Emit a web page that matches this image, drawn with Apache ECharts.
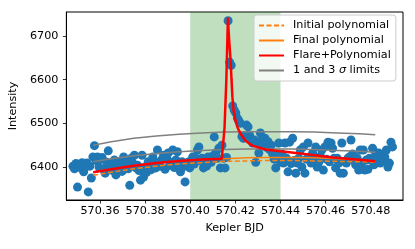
<!DOCTYPE html>
<html><head><meta charset="utf-8">
<script src="https://cdn.jsdelivr.net/npm/echarts@6/dist/echarts.min.js"></script>
<style>html,body{margin:0;padding:0;background:#fff}#c{width:415px;height:249px}</style>
</head><body><div id="c"></div>
<script>
// ---- data ----
const obsStart = 570.3480;      // first cadence time
const cadence = 0.000681;       // Kepler short cadence (days)
const intensity = [
6402,6396,6408,6354,6405,6398,6410,6389,6400,6409,
6343,6402,6375,6423,6449,6415,6423,6400,6418,6422,
6395,6386,6411,6437,6402,6409,6392,6416,6382,6405,
6398,6412,6390,6423,6402,6409,6396,6358,6420,6409,
6427,6398,6404,6392,6370,6427,6377,6400,6388,6412,
6405,6394,6423,6410,6398,6439,6411,6402,6418,6427,
6395,6420,6432,6404,6411,6439,6399,6416,6435,6409,
6389,6412,6401,6366,6405,6411,6398,6415,6423,6407,
6420,6439,6446,6414,6420,6398,6409,6402,6423,6415,
6411,6425,6469,6432,6420,6443,6398,6450,6420,6398,
6422,6735,6640,6633,6540,6530,6524,6512,6506,6500,
6470,6466,6470,6496,6492,6473,6462,6455,6462,6411,
6455,6432,6478,6462,6450,6466,6445,6458,6440,6450,
6430,6418,6398,6425,6455,6412,6430,6409,6455,6420,
6389,6457,6408,6466,6415,6386,6409,6420,6439,6400,
6446,6386,6418,6455,6423,6409,6432,6415,6446,6400,
6411,6425,6439,6393,6446,6418,6457,6412,6455,6443,
6420,6398,6420,6409,6386,6455,6386,6412,6409,6420,
6423,6462,6430,6415,6405,6420,6393,6439,6409,6439,
6393,6416,6395,6420,6416,6443,6405,6432,6418,6432,
6409,6420,6416,6423,6439,6400,6409,6457,6446
];
const polyTime  = [570.357,570.365,570.375,570.385,570.395,570.405,570.415,570.425,570.435,570.445,570.455,570.465,570.475,570.482];
const initPoly  = [6381,6388,6396,6402,6407,6410,6413,6414,6415,6415,6414,6413,6412,6411];
const finalPoly = [6388,6395,6403,6409,6414,6417,6419,6421,6422,6422,6421,6419,6416,6413];
const sigma1    = [6412,6419,6426,6431,6435,6438,6440,6441,6441,6441,6440,6438,6436,6434];
const sigma3    = [6450,6458,6466,6471,6475,6478,6480,6481,6481,6481,6480,6478,6476,6474];
const flareTime = [570.357,570.365,570.375,570.385,570.395,570.405,570.414,570.4145,570.4152,570.4160,570.4167,570.4170,570.4174,570.4179,570.4183,570.4187,570.4192,570.4201,570.4210,570.4223,570.4245,570.4275,570.4334,570.4400,570.4488,570.4634,570.4811,570.482];
const flareFit  = [6388,6395,6403,6409,6414,6417,6419,6420,6490,6600,6742,6712,6680,6643,6600,6560,6530,6505,6490,6476,6460,6449,6440,6436,6431,6422,6414,6413];
const spanRange = [570.40, 570.44];
const xTicks = [570.36,570.38,570.40,570.42,570.44,570.46,570.48];
const yTicks = [6400,6500,6600,6700];

const pts = intensity.map((v,i)=>[obsStart + i*cadence, v]);
const pair = (xs, ys) => xs.map((x,i)=>[x, ys[i]]);

const font = 'DejaVu Sans';
const fs = 11.2;
const chart = echarts.init(document.getElementById('c'), null, {renderer:'canvas'});
chart.setOption({
  animation:false,
  backgroundColor:'#fff',
  grid:{left:65,right:12,top:12,bottom:49,show:true,borderColor:'#000',borderWidth:1,backgroundColor:'transparent'},
  xAxis:{type:'value',min:570.3451,max:570.4943,
    name:'Kepler BJD',nameLocation:'middle',nameGap:23,
    nameTextStyle:{fontFamily:font,fontSize:fs,color:'#000'},
    axisLine:{show:true,onZero:false,lineStyle:{color:'#000',width:1}},
    axisTick:{show:true,length:3.5,customValues:xTicks,lineStyle:{color:'#000',width:0.8}},
    axisLabel:{customValues:xTicks,margin:6,fontFamily:font,fontSize:fs,color:'#000',formatter:v=>v.toFixed(2)},
    splitLine:{show:false}},
  yAxis:{type:'value',min:6324.5,max:6755,
    name:'Intensity',nameLocation:'middle',nameGap:41,nameRotate:90,
    nameTextStyle:{fontFamily:font,fontSize:fs,color:'#000'},
    axisLine:{show:true,onZero:false,lineStyle:{color:'#000',width:1}},
    axisTick:{show:true,length:3.5,customValues:yTicks,lineStyle:{color:'#000',width:0.8}},
    axisLabel:{customValues:yTicks,margin:8,fontFamily:font,fontSize:fs,color:'#000',formatter:v=>String(Math.round(v))},
    splitLine:{show:false}},
  legend:{
    orient:'vertical',left:254,top:15,
    data:['Initial polynomial','Final polynomial','Flare+Polynomial','1 and 3 σ limits'],
    itemWidth:25,itemHeight:13,itemGap:4,
    padding:[5,5,5,4],
    itemStyle:{color:'rgba(0,0,0,0)',borderColor:'rgba(0,0,0,0)',borderWidth:0},
    backgroundColor:'rgba(255,255,255,0.8)',borderColor:'#cccccc',borderWidth:1,borderRadius:3,
    textStyle:{fontFamily:font,fontSize:fs,color:'#000',padding:[0,0,0,4],
      rich:{s:{fontFamily:font,fontSize:fs,fontStyle:'italic',color:'#000'}}},
    formatter:n=> n==='1 and 3 σ limits' ? '1 and 3 {s|σ} limits' : n
  },
  series:[
    {type:'line',name:'span',data:[],z:0,silent:true,
      markArea:{silent:true,itemStyle:{color:'rgba(0,128,0,0.25)'},data:[[{xAxis:spanRange[0]},{xAxis:spanRange[1]}]]}},
    {type:'scatter',name:'data',data:pts,symbolSize:9,z:2,itemStyle:{color:'#1f77b4',opacity:1}},
    {type:'line',name:'1 and 3 σ limits',data:pair(polyTime,sigma1),showSymbol:false,symbol:'none',z:3,
      lineStyle:{color:'#808080',width:1.5},itemStyle:{color:'#808080'}},
    {type:'line',name:'1 and 3 σ limits',data:pair(polyTime,sigma3),showSymbol:false,symbol:'none',z:3,
      lineStyle:{color:'#808080',width:1.5},itemStyle:{color:'#808080'}},
    {type:'line',name:'Initial polynomial',data:pair(polyTime,initPoly),showSymbol:false,symbol:'none',z:4,
      lineStyle:{color:'#ff7f0e',width:1.5,type:[5,2.5]},itemStyle:{color:'#ff7f0e'}},
    {type:'line',name:'Final polynomial',data:pair(polyTime,finalPoly),showSymbol:false,symbol:'none',z:4,
      lineStyle:{color:'#ff7f0e',width:1.5},itemStyle:{color:'#ff7f0e'}},
    {type:'line',name:'Flare+Polynomial',data:pair(flareTime,flareFit),showSymbol:false,symbol:'none',z:5,
      lineStyle:{color:'#ff0000',width:2.5},itemStyle:{color:'#ff0000'}}
  ]
});
</script></body></html>
